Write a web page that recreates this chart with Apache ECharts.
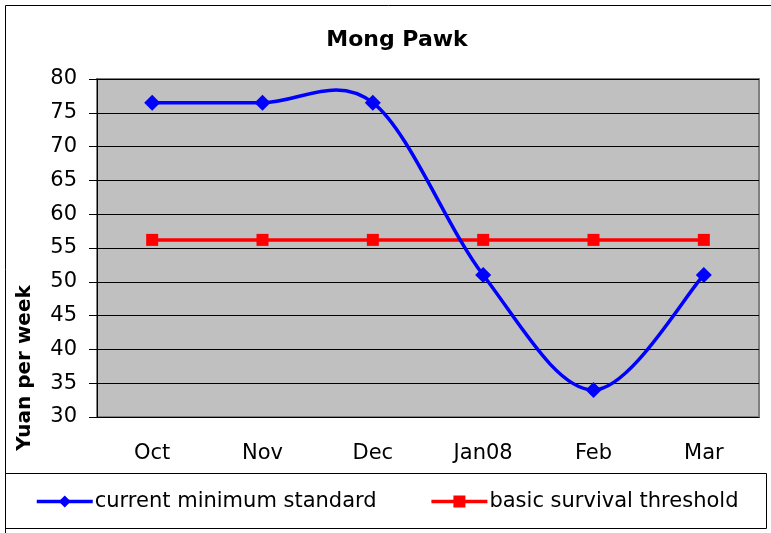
<!DOCTYPE html>
<html>
<head>
<meta charset="utf-8">
<script src="https://cdn.jsdelivr.net/npm/echarts@6/dist/echarts.min.js"></script>
<style>
  html, body { margin: 0; padding: 0; background: #fff; }
  #chart { width: 771px; height: 533px; }
</style>
</head>
<body>
<div id="chart"></div>
<script>
// data
var months = ['Oct', 'Nov', 'Dec', 'Jan08', 'Feb', 'Mar']
var currentMinimum = [76.5, 76.5, 76.5, 51, 34, 51]
var survivalThreshold = [56.2, 56.2, 56.2, 56.2, 56.2, 56.2]
var seriesNames = ['current minimum standard', 'basic survival threshold']

var myChart = echarts.init(document.getElementById('chart'))

var font = 'DejaVu Sans, sans-serif'

// excel style smoothing (catmull-rom through the points, coords from the axes)
function renderSmooth (params, api) {
  var pts = currentMinimum.map(function (v, i) { return api.coord([i, v]) })
  var n = pts.length
  var d = 'M' + pts[0][0] + ' ' + pts[0][1]
  for (var i = 0; i < n - 1; i++) {
    var p0 = pts[Math.max(i - 1, 0)]
    var p1 = pts[i]
    var p2 = pts[i + 1]
    var p3 = pts[Math.min(i + 2, n - 1)]
    var c1x = p1[0] + (p2[0] - p0[0]) / 6
    var c1y = p1[1] + (p2[1] - p0[1]) / 6
    var c2x = p2[0] - (p3[0] - p1[0]) / 6
    var c2y = p2[1] - (p3[1] - p1[1]) / 6
    d += ' C' + c1x + ' ' + c1y + ' ' + c2x + ' ' + c2y + ' ' + p2[0] + ' ' + p2[1]
  }
  return {
    type: 'path',
    shape: { pathData: d },
    style: { fill: null, stroke: '#0000ff', lineWidth: 3.5 }
  }
}

myChart.setOption({
  animation: false,
  textStyle: { fontFamily: font },
  title: {
    text: 'Mong Pawk',
    left: 392,
    top: 24,
    textAlign: 'center',
    textStyle: { fontSize: 22, fontWeight: 'bold', color: '#000', fontFamily: font }
  },
  grid: {
    left: 97,
    right: 12,
    top: 79,
    bottom: 116,
    show: true,
    backgroundColor: '#c0c0c0',
    borderColor: '#808080',
    borderWidth: 2
  },
  legend: {
    left: 30,
    top: 486,
    itemWidth: 56,
    itemHeight: 15,
    itemGap: 53,
    data: [
      { name: seriesNames[0], lineStyle: { opacity: 1, width: 3.5, color: '#0000ff' } },
      { name: seriesNames[1], lineStyle: { width: 3.5, color: '#ff0000' } }
    ],
    textStyle: { fontSize: 21, color: '#000', fontFamily: font, padding: [0, 0, 0, -3] }
  },
  xAxis: {
    type: 'category',
    data: months,
    axisLine: { lineStyle: { color: '#000', width: 1 } },
    axisTick: { length: 8, lineStyle: { color: '#000' } },
    axisLabel: { fontSize: 21, color: '#000', margin: 26 }
  },
  yAxis: {
    type: 'value',
    min: 30,
    max: 80,
    interval: 5,
    axisLine: { show: true, lineStyle: { color: '#000', width: 1 } },
    axisTick: { show: true, length: 8, lineStyle: { color: '#000' } },
    axisLabel: { fontSize: 21, color: '#000', margin: 20 },
    splitLine: { lineStyle: { color: '#000', width: 1 } }
  },
  graphic: [
    {
      // outer chart border
      type: 'rect',
      shape: { x: 5.5, y: 5.5, width: 780, height: 540 },
      style: { fill: null, stroke: '#000', lineWidth: 1 },
      z: 0
    },
    {
      // legend box
      type: 'rect',
      shape: { x: 5.5, y: 473.5, width: 761, height: 55 },
      style: { fill: null, stroke: '#000', lineWidth: 1 },
      z: 0
    },
    {
      type: 'text',
      x: 25,
      y: 368,
      rotation: Math.PI / 2,
      style: {
        text: 'Yuan per week',
        fontSize: 20,
        fontWeight: 'bold',
        fontFamily: font,
        fill: '#000',
        textAlign: 'center',
        textVerticalAlign: 'middle'
      }
    }
  ],
  series: [
    {
      name: seriesNames[1],
      type: 'line',
      data: survivalThreshold,
      color: '#ff0000',
      lineStyle: { width: 3.5 },
      symbol: 'rect',
      symbolSize: 12,
      z: 2
    },
    {
      type: 'custom',
      data: [0],
      renderItem: renderSmooth,
      silent: true,
      z: 3
    },
    {
      name: seriesNames[0],
      type: 'line',
      data: currentMinimum,
      color: '#0000ff',
      lineStyle: { opacity: 0 },
      symbol: 'diamond',
      symbolSize: 16,
      z: 4
    }
  ]
})
</script>
</body>
</html>
